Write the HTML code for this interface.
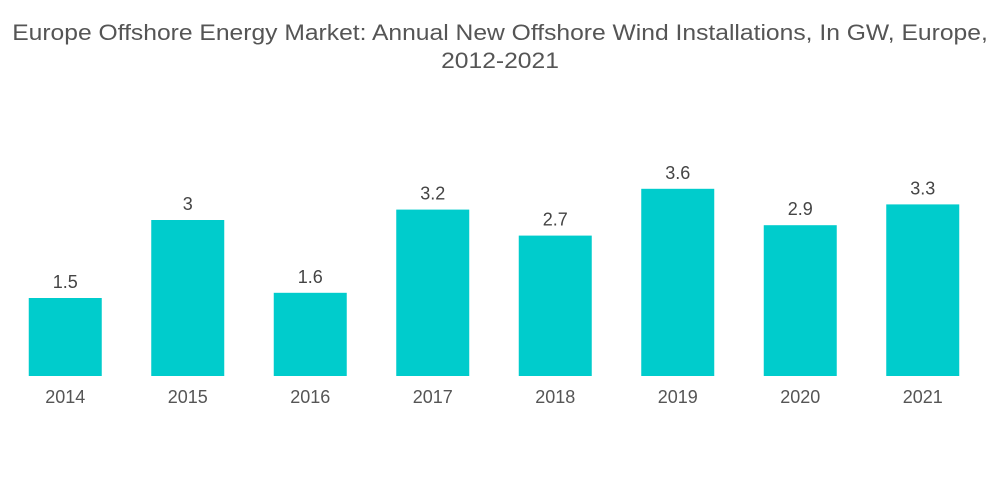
<!DOCTYPE html>
<html><head><meta charset="utf-8"><style>
html,body{margin:0;padding:0;background:#fff;width:1000px;height:504px;overflow:hidden}
#title{position:absolute;left:0;top:19px;width:1000px;text-align:center;font-family:"Liberation Sans",sans-serif;font-size:22px;line-height:28px;color:#555;transform:scaleX(1.12);transform-origin:500px 0}
svg{position:absolute;left:0;top:0}
</style></head><body>
<div id="title">Europe Offshore Energy Market: Annual New Offshore Wind Installations, In GW, Europe,<br>2012-2021</div>
<svg id="chart" width="1000" height="504"></svg>
<script>
const categories = ["2014","2015","2016","2017","2018","2019","2020","2021"];
const values = [1.5,3,1.6,3.2,2.7,3.6,2.9,3.3];
const valueLabels = ["1.5","3","1.6","3.2","2.7","3.6","2.9","3.3"];
const svg = document.getElementById('chart');
const NS = 'http://www.w3.org/2000/svg';
const plotLeft = 4, plotRight = 984, baseY = 376, pxPerUnit = 52;
const band = (plotRight - plotLeft) / categories.length;
const barW = 73;
function xCenter(i){ return plotLeft + band * (i + 0.5); }
function yScale(v){ return baseY - v * pxPerUnit; }
categories.forEach((c, i) => {
  const cx = xCenter(i);
  const r = document.createElementNS(NS, 'rect');
  r.setAttribute('x', cx - barW/2);
  r.setAttribute('y', yScale(values[i]));
  r.setAttribute('width', barW);
  r.setAttribute('height', baseY - yScale(values[i]));
  r.setAttribute('fill', '#00cccc');
  
  
  svg.appendChild(r);
  const t = document.createElementNS(NS, 'text');
  t.setAttribute('x', cx);
  t.setAttribute('y', yScale(values[i]) - 10);
  t.setAttribute('text-anchor', 'middle');
  t.setAttribute('font-family', 'Liberation Sans, sans-serif');
  t.setAttribute('font-size', '18');
  t.setAttribute('fill', '#444');
  t.textContent = valueLabels[i];
  
  
  svg.appendChild(t);
  const x = document.createElementNS(NS, 'text');
  x.setAttribute('x', cx);
  x.setAttribute('y', 403);
  x.setAttribute('text-anchor', 'middle');
  x.setAttribute('font-family', 'Liberation Sans, sans-serif');
  x.setAttribute('font-size', '18');
  x.setAttribute('fill', '#555');
  x.textContent = c;
  
  
  svg.appendChild(x);
});
</script>
</body></html>
